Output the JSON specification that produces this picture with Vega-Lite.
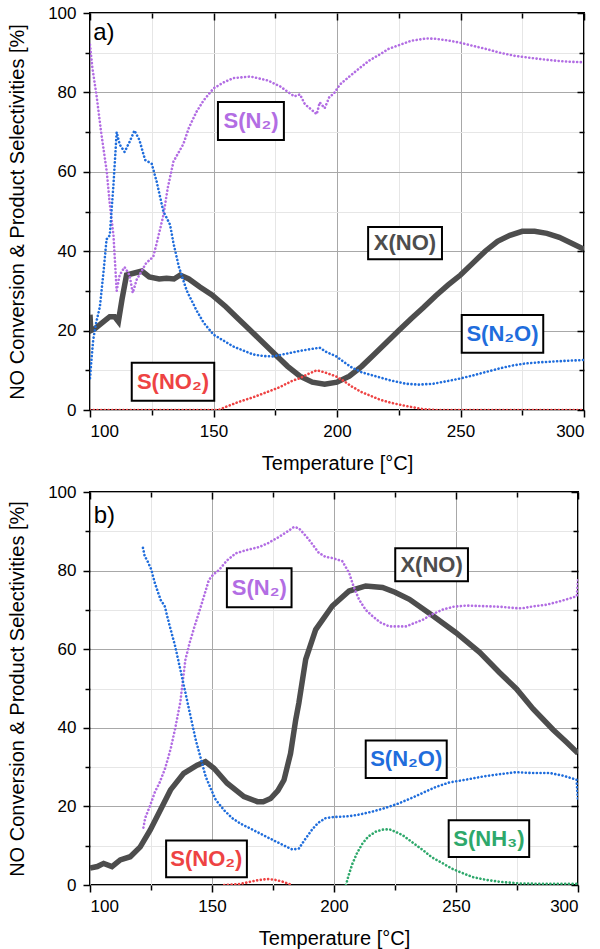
{
"$schema":"https://vega.github.io/schema/vega-lite/v6.json",
"padding":{"left":6,"top":3,"right":0,"bottom":0},
"background":"white",
"spacing":8,
"config":{
 "view":{"stroke":"black","strokeWidth":2},
 "font":"Liberation Sans",
 "axis":{"domain":false,"labelFont":"Liberation Sans","titleFont":"Liberation Sans","labelFontSize":17,"titleFontSize":20,"titleFontWeight":"normal","labelColor":"black","titleColor":"black","tickColor":"black","tickWidth":1.5}
},
"datasets":{
"aX":[{"t":100,"v":24},{"t":100.3,"v":20},{"t":102,"v":20.5},{"t":104,"v":21.5},{"t":106,"v":22.5},{"t":108,"v":23.5},{"t":110,"v":23.5},{"t":111.5,"v":22.3},{"t":113,"v":28},{"t":114.8,"v":34},{"t":118,"v":34.5},{"t":121,"v":35},{"t":124,"v":33.5},{"t":128,"v":33},{"t":131,"v":33.2},{"t":134,"v":33},{"t":136.5,"v":34},{"t":140,"v":33},{"t":144.5,"v":31},{"t":149.4,"v":29},{"t":155,"v":26},{"t":160,"v":23},{"t":163.4,"v":21},{"t":170,"v":17},{"t":175,"v":14},{"t":180,"v":11},{"t":185,"v":8.5},{"t":190,"v":7},{"t":195,"v":6.5},{"t":200,"v":7},{"t":205,"v":8.5},{"t":210,"v":11},{"t":215,"v":14},{"t":220,"v":17},{"t":225,"v":20},{"t":230,"v":23},{"t":235,"v":25.8},{"t":240,"v":28.8},{"t":245,"v":31.5},{"t":250,"v":34},{"t":255,"v":37},{"t":260,"v":40},{"t":265,"v":42.5},{"t":270,"v":44},{"t":275,"v":45},{"t":280,"v":45},{"t":285,"v":44.5},{"t":290,"v":43.5},{"t":295,"v":42},{"t":300,"v":40.5}],
"aS":[
{"s":"N2","t":100,"v":92},{"s":"N2","t":101,"v":86},{"s":"N2","t":102.7,"v":79},{"s":"N2","t":104.5,"v":70},{"s":"N2","t":106.8,"v":60},{"s":"N2","t":108,"v":52},{"s":"N2","t":109.5,"v":44},{"s":"N2","t":110.8,"v":30},{"s":"N2","t":112,"v":34},{"s":"N2","t":114,"v":36},{"s":"N2","t":116,"v":34},{"s":"N2","t":117.3,"v":29.5},{"s":"N2","t":119,"v":33},{"s":"N2","t":120,"v":34},{"s":"N2","t":122.7,"v":37},{"s":"N2","t":125.6,"v":38.6},{"s":"N2","t":127,"v":42},{"s":"N2","t":129.7,"v":49},{"s":"N2","t":131.5,"v":56},{"s":"N2","t":133.8,"v":62.6},{"s":"N2","t":137.8,"v":67},{"s":"N2","t":140,"v":71},{"s":"N2","t":143,"v":75},{"s":"N2","t":146,"v":78},{"s":"N2","t":150,"v":81},{"s":"N2","t":154,"v":82.5},{"s":"N2","t":158,"v":83.6},{"s":"N2","t":165,"v":84},{"s":"N2","t":172,"v":83},{"s":"N2","t":177,"v":81.5},{"s":"N2","t":182.7,"v":79},{"s":"N2","t":185,"v":79.5},{"s":"N2","t":187,"v":77},{"s":"N2","t":189,"v":76},{"s":"N2","t":191.8,"v":74.5},{"s":"N2","t":193,"v":77.5},{"s":"N2","t":195,"v":76},{"s":"N2","t":197,"v":79},{"s":"N2","t":198.5,"v":79.5},{"s":"N2","t":201.2,"v":82},{"s":"N2","t":205,"v":84},{"s":"N2","t":209.3,"v":86.2},{"s":"N2","t":213,"v":88},{"s":"N2","t":217.4,"v":89.6},{"s":"N2","t":221,"v":91},{"s":"N2","t":225.5,"v":92},{"s":"N2","t":230,"v":93},{"s":"N2","t":236.3,"v":93.6},{"s":"N2","t":240,"v":93.5},{"s":"N2","t":245.7,"v":93},{"s":"N2","t":250,"v":92.5},{"s":"N2","t":255.2,"v":91.7},{"s":"N2","t":260,"v":91},{"s":"N2","t":266,"v":90},{"s":"N2","t":272,"v":89.2},{"s":"N2","t":279.5,"v":88.6},{"s":"N2","t":285,"v":88.2},{"s":"N2","t":290,"v":87.9},{"s":"N2","t":295,"v":87.7},{"s":"N2","t":300,"v":87.6},
{"s":"N2O","t":100,"v":8},{"s":"N2O","t":100.5,"v":12},{"s":"N2O","t":101.3,"v":17.7},{"s":"N2O","t":102.5,"v":22},{"s":"N2O","t":104,"v":26},{"s":"N2O","t":105.5,"v":35},{"s":"N2O","t":106.7,"v":43},{"s":"N2O","t":108,"v":44},{"s":"N2O","t":109.5,"v":56.8},{"s":"N2O","t":110.8,"v":70},{"s":"N2O","t":112,"v":66.9},{"s":"N2O","t":114,"v":65},{"s":"N2O","t":116,"v":67.5},{"s":"N2O","t":118,"v":70.4},{"s":"N2O","t":120,"v":68},{"s":"N2O","t":122.3,"v":63},{"s":"N2O","t":125,"v":62},{"s":"N2O","t":127,"v":57.5},{"s":"N2O","t":129.7,"v":50},{"s":"N2O","t":132.4,"v":46.7},{"s":"N2O","t":133.8,"v":42},{"s":"N2O","t":136,"v":36},{"s":"N2O","t":139.2,"v":30},{"s":"N2O","t":143.2,"v":25},{"s":"N2O","t":146,"v":22},{"s":"N2O","t":150,"v":19},{"s":"N2O","t":154,"v":17.5},{"s":"N2O","t":158,"v":16},{"s":"N2O","t":162,"v":15},{"s":"N2O","t":166,"v":14},{"s":"N2O","t":170,"v":13.6},{"s":"N2O","t":174,"v":13.5},{"s":"N2O","t":178,"v":14},{"s":"N2O","t":182,"v":14.5},{"s":"N2O","t":185,"v":14.9},{"s":"N2O","t":189,"v":15.3},{"s":"N2O","t":193,"v":15.7},{"s":"N2O","t":196,"v":14.5},{"s":"N2O","t":199.5,"v":13.6},{"s":"N2O","t":203,"v":12},{"s":"N2O","t":206,"v":10.7},{"s":"N2O","t":210,"v":9.5},{"s":"N2O","t":217.4,"v":8.2},{"s":"N2O","t":222,"v":7.4},{"s":"N2O","t":228,"v":6.6},{"s":"N2O","t":233,"v":6.4},{"s":"N2O","t":238.8,"v":6.6},{"s":"N2O","t":244,"v":7.2},{"s":"N2O","t":249.6,"v":7.9},{"s":"N2O","t":255,"v":8.7},{"s":"N2O","t":260.4,"v":9.6},{"s":"N2O","t":266,"v":10.5},{"s":"N2O","t":271,"v":11.2},{"s":"N2O","t":276,"v":11.7},{"s":"N2O","t":281.9,"v":12},{"s":"N2O","t":287,"v":12.2},{"s":"N2O","t":293,"v":12.4},{"s":"N2O","t":300,"v":12.6},
{"s":"NO2","t":100,"v":0},{"s":"NO2","t":152,"v":0},{"s":"NO2","t":155,"v":0.8},{"s":"NO2","t":160,"v":2},{"s":"NO2","t":166,"v":3.2},{"s":"NO2","t":172,"v":4.6},{"s":"NO2","t":177,"v":5.8},{"s":"NO2","t":182,"v":7.4},{"s":"NO2","t":185,"v":8},{"s":"NO2","t":188,"v":9},{"s":"NO2","t":191.8,"v":10},{"s":"NO2","t":195,"v":9.5},{"s":"NO2","t":199.5,"v":8.5},{"s":"NO2","t":203,"v":7.2},{"s":"NO2","t":206,"v":5.9},{"s":"NO2","t":210,"v":4.5},{"s":"NO2","t":217.4,"v":2.6},{"s":"NO2","t":222,"v":1.8},{"s":"NO2","t":228,"v":1},{"s":"NO2","t":235,"v":0.2},{"s":"NO2","t":240,"v":0},{"s":"NO2","t":300,"v":0}],
"aB":[{"s":"N2","lab":"S(N₂)","x1":151.8,"x2":178.5,"y1":68,"y2":77.6,"xc":165.2,"yc":72.8},{"s":"X","lab":"X(NO)","x1":212.6,"x2":242.5,"y1":38,"y2":46.1,"xc":227.5,"yc":42},{"s":"N2O","lab":"S(N₂O)","x1":250.5,"x2":283.5,"y1":14.4,"y2":23.9,"xc":267,"yc":19.1},{"s":"NO2","lab":"S(NO₂)","x1":116.9,"x2":150.3,"y1":2.3,"y2":11.9,"xc":133.6,"yc":7.1}],
"aL":[{"lab":"a)","t":101.3,"v":95}],
"bX":[{"t":100,"v":4.3},{"t":103,"v":4.7},{"t":105.6,"v":5.5},{"t":109,"v":4.7},{"t":112.4,"v":6.4},{"t":116.5,"v":7.2},{"t":120.6,"v":9.7},{"t":124.7,"v":14},{"t":128.8,"v":19},{"t":133,"v":24.2},{"t":138.4,"v":28.4},{"t":143.9,"v":30.5},{"t":147.3,"v":31.4},{"t":150.8,"v":29.7},{"t":156.2,"v":25.9},{"t":163.1,"v":22.5},{"t":168.6,"v":21.2},{"t":171,"v":21.2},{"t":174,"v":22},{"t":177,"v":24},{"t":179.5,"v":26.7},{"t":182.2,"v":33.5},{"t":184.3,"v":42},{"t":185.6,"v":46.3},{"t":188.4,"v":57.4},{"t":192.5,"v":65},{"t":199.3,"v":71},{"t":206.2,"v":74.8},{"t":213,"v":76.1},{"t":219.9,"v":75.7},{"t":225,"v":74.5},{"t":230.9,"v":72.7},{"t":240.5,"v":68.5},{"t":250,"v":64.2},{"t":259.7,"v":59.2},{"t":267.9,"v":54},{"t":274.8,"v":49.9},{"t":281.6,"v":44.8},{"t":289.8,"v":39.5},{"t":295,"v":36.5},{"t":300,"v":33.5}],
"bS":[
{"s":"N2","t":121.9,"v":14.6},{"s":"N2","t":122.6,"v":17},{"s":"N2","t":124.5,"v":20},{"s":"N2","t":126.7,"v":23.8},{"s":"N2","t":128.5,"v":26},{"s":"N2","t":130.8,"v":29.7},{"s":"N2","t":133,"v":34.5},{"s":"N2","t":134.9,"v":39.8},{"s":"N2","t":137,"v":46.5},{"s":"N2","t":139.1,"v":57.3},{"s":"N2","t":141,"v":62},{"s":"N2","t":143.2,"v":66.5},{"s":"N2","t":146,"v":72},{"s":"N2","t":148.7,"v":77.6},{"s":"N2","t":150.5,"v":79},{"s":"N2","t":152.8,"v":80.1},{"s":"N2","t":156,"v":82.5},{"s":"N2","t":159.7,"v":84.4},{"s":"N2","t":164,"v":85.2},{"s":"N2","t":169.3,"v":86},{"s":"N2","t":173,"v":87},{"s":"N2","t":177.5,"v":88.6},{"s":"N2","t":181,"v":90},{"s":"N2","t":183.6,"v":91.1},{"s":"N2","t":185.6,"v":90.8},{"s":"N2","t":187.5,"v":89.5},{"s":"N2","t":189.7,"v":87.9},{"s":"N2","t":193.8,"v":84.5},{"s":"N2","t":196.5,"v":83.5},{"s":"N2","t":199.3,"v":83.2},{"s":"N2","t":203.4,"v":82.4},{"s":"N2","t":206.2,"v":79.4},{"s":"N2","t":208,"v":76},{"s":"N2","t":210.3,"v":72.6},{"s":"N2","t":213,"v":70},{"s":"N2","t":215.8,"v":68.4},{"s":"N2","t":219,"v":66.8},{"s":"N2","t":222.6,"v":65.8},{"s":"N2","t":229.5,"v":65.8},{"s":"N2","t":236.4,"v":67.5},{"s":"N2","t":240,"v":68.8},{"s":"N2","t":244.6,"v":70.1},{"s":"N2","t":249,"v":70.8},{"s":"N2","t":254.2,"v":71.1},{"s":"N2","t":263.8,"v":70.9},{"s":"N2","t":268,"v":70.8},{"s":"N2","t":273.4,"v":70.5},{"s":"N2","t":277,"v":70.4},{"s":"N2","t":281.6,"v":70.9},{"s":"N2","t":287,"v":71.3},{"s":"N2","t":292.6,"v":72.2},{"s":"N2","t":296,"v":72.8},{"s":"N2","t":299.5,"v":73.5},{"s":"N2","t":300,"v":77.5},
{"s":"N2O","t":121.7,"v":85.8},{"s":"N2O","t":122.4,"v":83.7},{"s":"N2O","t":123.5,"v":82.5},{"s":"N2O","t":125.1,"v":80.3},{"s":"N2O","t":126.5,"v":77},{"s":"N2O","t":127.9,"v":74.4},{"s":"N2O","t":129,"v":72.5},{"s":"N2O","t":130.6,"v":71},{"s":"N2O","t":132,"v":67.5},{"s":"N2O","t":133.4,"v":64.2},{"s":"N2O","t":134.8,"v":61},{"s":"N2O","t":136.1,"v":57.4},{"s":"N2O","t":138.2,"v":51.5},{"s":"N2O","t":140.3,"v":45.5},{"s":"N2O","t":143.3,"v":37},{"s":"N2O","t":145.5,"v":32},{"s":"N2O","t":147.4,"v":27.6},{"s":"N2O","t":149.5,"v":24.5},{"s":"N2O","t":151.5,"v":21.7},{"s":"N2O","t":155,"v":19},{"s":"N2O","t":158.3,"v":17},{"s":"N2O","t":162,"v":15.5},{"s":"N2O","t":166.6,"v":14.1},{"s":"N2O","t":170,"v":13},{"s":"N2O","t":174.8,"v":11.5},{"s":"N2O","t":179,"v":10.2},{"s":"N2O","t":183,"v":9},{"s":"N2O","t":185.6,"v":9.3},{"s":"N2O","t":188,"v":11.5},{"s":"N2O","t":191,"v":14.1},{"s":"N2O","t":193.5,"v":15.8},{"s":"N2O","t":196.5,"v":17},{"s":"N2O","t":200,"v":17.3},{"s":"N2O","t":206.2,"v":17.5},{"s":"N2O","t":211,"v":18},{"s":"N2O","t":215.8,"v":18.7},{"s":"N2O","t":221,"v":19.6},{"s":"N2O","t":226.7,"v":20.8},{"s":"N2O","t":232,"v":22.2},{"s":"N2O","t":237.7,"v":23.8},{"s":"N2O","t":242,"v":25},{"s":"N2O","t":247.3,"v":26.1},{"s":"N2O","t":254,"v":26.8},{"s":"N2O","t":261,"v":27.6},{"s":"N2O","t":268,"v":28.2},{"s":"N2O","t":274.7,"v":28.7},{"s":"N2O","t":281,"v":28.5},{"s":"N2O","t":288.4,"v":28.5},{"s":"N2O","t":294,"v":27.8},{"s":"N2O","t":299.4,"v":26.8},{"s":"N2O","t":300,"v":21.5},
{"s":"NO2","t":155,"v":0},{"s":"NO2","t":160.9,"v":0.2},{"s":"NO2","t":164,"v":0.6},{"s":"NO2","t":167.7,"v":1.1},{"s":"NO2","t":171,"v":1.4},{"s":"NO2","t":173.2,"v":1.5},{"s":"NO2","t":176,"v":1.3},{"s":"NO2","t":178.7,"v":0.9},{"s":"NO2","t":182.8,"v":0},
{"s":"NH3","t":204.9,"v":0},{"s":"NH3","t":206,"v":2.5},{"s":"NH3","t":207.6,"v":5.5},{"s":"NH3","t":209.5,"v":8.2},{"s":"NH3","t":211.7,"v":10.6},{"s":"NH3","t":214,"v":12.3},{"s":"NH3","t":217.2,"v":13.6},{"s":"NH3","t":220,"v":14.1},{"s":"NH3","t":222.6,"v":14.2},{"s":"NH3","t":225,"v":13.6},{"s":"NH3","t":228.1,"v":12.7},{"s":"NH3","t":232,"v":10.9},{"s":"NH3","t":236.4,"v":8.9},{"s":"NH3","t":240,"v":7.1},{"s":"NH3","t":244.6,"v":5.5},{"s":"NH3","t":248.5,"v":4.1},{"s":"NH3","t":252.8,"v":3},{"s":"NH3","t":257,"v":2},{"s":"NH3","t":262.4,"v":1.3},{"s":"NH3","t":268,"v":0.8},{"s":"NH3","t":276.1,"v":0.4},{"s":"NH3","t":285,"v":0.3},{"s":"NH3","t":300,"v":0.3}],
"bB":[{"s":"N2","lab":"S(N₂)","x1":156.1,"x2":182.6,"y1":70.7,"y2":80.6,"xc":169.4,"yc":75.6},{"s":"X","lab":"X(NO)","x1":225.1,"x2":254.9,"y1":77.3,"y2":85.7,"xc":240,"yc":81.5},{"s":"N2O","lab":"S(N₂O)","x1":213,"x2":246.2,"y1":27.2,"y2":36.8,"xc":229.6,"yc":32},{"s":"NH3","lab":"S(NH₃)","x1":247,"x2":280,"y1":7.1,"y2":16.5,"xc":263.5,"yc":11.8},{"s":"NO2","lab":"S(NO₂)","x1":131.2,"x2":164.3,"y1":2,"y2":11.3,"xc":147.7,"yc":6.6}],
"bL":[{"lab":"b)","t":101.5,"v":94}]
},
"vconcat":[
{
 "width":494,"height":397,
 "resolve":{"axis":{"x":"independent","y":"independent"}},
 "layer":[
  {"data":{"name":"aX"},"mark":{"type":"line","color":"#4d4d4d","strokeWidth":5.5,"clip":true},
   "encoding":{
    "x":{"field":"t","type":"quantitative","scale":{"domain":[100,300],"nice":false},"axis":{"orient":"bottom","title":"Temperature [°C]","values":[100,125,150,175,200,225,250,275,300],"labelExpr":"datum.value % 50 === 0 ? datum.label : ''","labelPadding":6,"titlePadding":14,"tickSize":{"condition":{"test":"datum.value % 50 === 0","value":7},"value":5},"gridColor":{"condition":{"test":"datum.value % 50 === 0","value":"#a8a8a8"},"value":"#e6e6e6"},"grid":true}},
    "y":{"field":"v","type":"quantitative","scale":{"domain":[0,100],"nice":false},"axis":{"orient":"left","title":"NO Conversion & Product Selectivities [%]","values":[0,10,20,30,40,50,60,70,80,90,100],"labelExpr":"datum.value % 20 === 0 ? datum.label : ''","labelPadding":7,"titlePadding":20,"tickSize":{"condition":{"test":"datum.value % 20 === 0","value":7},"value":5},"gridColor":{"condition":{"test":"datum.value % 20 === 0","value":"#a8a8a8"},"value":"#e6e6e6"},"grid":true}}}},
  {"data":{"name":"aS"},"mark":{"type":"line","strokeWidth":2.6,"strokeDash":[0.1,3.6],"strokeCap":"round","clip":true},
   "encoding":{"x":{"field":"t","type":"quantitative","axis":null},"y":{"field":"v","type":"quantitative","axis":null},
    "color":{"field":"s","type":"nominal","legend":null,"scale":{"domain":["N2","N2O","NO2","NH3","X"],"range":["#b26de3","#1f6ddc","#ee4343","#2ea86b","#4d4d4d"]}}}},
  {"data":{"name":"aB"},"mark":{"type":"rect","fill":"white","stroke":"black","strokeWidth":2},
   "encoding":{"x":{"field":"x1","type":"quantitative","axis":null},"x2":{"field":"x2"},"y":{"field":"y1","type":"quantitative","axis":null},"y2":{"field":"y2"}}},
  {"data":{"name":"aB"},"mark":{"type":"text","fontWeight":"bold","fontSize":22,"font":"Liberation Sans","align":"center","baseline":"middle"},
   "encoding":{"x":{"field":"xc","type":"quantitative","axis":null},"y":{"field":"yc","type":"quantitative","axis":null},"text":{"field":"lab"},
    "color":{"field":"s","type":"nominal","legend":null}}},
  {"data":{"name":"aL"},"mark":{"type":"text","fontSize":24,"font":"Liberation Sans","align":"left","baseline":"middle","color":"black"},
   "encoding":{"x":{"field":"t","type":"quantitative","axis":null},"y":{"field":"v","type":"quantitative","axis":null},"text":{"field":"lab"}}},
  {"data":{"name":"aX"},"mark":{"type":"line","opacity":0},
   "encoding":{
    "x":{"field":"t","type":"quantitative","axis":{"orient":"top","title":null,"labels":false,"grid":false,"minExtent":0,"maxExtent":0,"values":[100,125,150,175,200,225,250,275,300],"tickSize":{"condition":{"test":"datum.value % 50 === 0","value":-7},"value":-5}}},
    "y":{"field":"v","type":"quantitative","axis":{"orient":"right","title":null,"labels":false,"grid":false,"minExtent":0,"maxExtent":0,"values":[0,10,20,30,40,50,60,70,80,90,100],"tickSize":{"condition":{"test":"datum.value % 20 === 0","value":-7},"value":-5}}}}}
 ]
},
{
 "width":488,"height":393,
 "resolve":{"axis":{"x":"independent","y":"independent"}},
 "layer":[
  {"data":{"name":"bX"},"mark":{"type":"line","color":"#4d4d4d","strokeWidth":5.5,"clip":true},
   "encoding":{
    "x":{"field":"t","type":"quantitative","scale":{"domain":[100,300],"nice":false},"axis":{"orient":"bottom","title":"Temperature [°C]","values":[100,125,150,175,200,225,250,275,300],"labelExpr":"datum.value % 50 === 0 ? datum.label : ''","labelPadding":6,"titlePadding":14,"tickSize":{"condition":{"test":"datum.value % 50 === 0","value":7},"value":5},"gridColor":{"condition":{"test":"datum.value % 50 === 0","value":"#a8a8a8"},"value":"#e6e6e6"},"grid":true}},
    "y":{"field":"v","type":"quantitative","scale":{"domain":[0,100],"nice":false},"axis":{"orient":"left","title":"NO Conversion & Product Selectivities [%]","values":[0,10,20,30,40,50,60,70,80,90,100],"labelExpr":"datum.value % 20 === 0 ? datum.label : ''","labelPadding":7,"titlePadding":20,"tickSize":{"condition":{"test":"datum.value % 20 === 0","value":7},"value":5},"gridColor":{"condition":{"test":"datum.value % 20 === 0","value":"#a8a8a8"},"value":"#e6e6e6"},"grid":true}}}},
  {"data":{"name":"bS"},"mark":{"type":"line","strokeWidth":2.6,"strokeDash":[0.1,3.6],"strokeCap":"round","clip":true},
   "encoding":{"x":{"field":"t","type":"quantitative","axis":null},"y":{"field":"v","type":"quantitative","axis":null},
    "color":{"field":"s","type":"nominal","legend":null,"scale":{"domain":["N2","N2O","NO2","NH3","X"],"range":["#b26de3","#1f6ddc","#ee4343","#2ea86b","#4d4d4d"]}}}},
  {"data":{"name":"bB"},"mark":{"type":"rect","fill":"white","stroke":"black","strokeWidth":2},
   "encoding":{"x":{"field":"x1","type":"quantitative","axis":null},"x2":{"field":"x2"},"y":{"field":"y1","type":"quantitative","axis":null},"y2":{"field":"y2"}}},
  {"data":{"name":"bB"},"mark":{"type":"text","fontWeight":"bold","fontSize":22,"font":"Liberation Sans","align":"center","baseline":"middle"},
   "encoding":{"x":{"field":"xc","type":"quantitative","axis":null},"y":{"field":"yc","type":"quantitative","axis":null},"text":{"field":"lab"},
    "color":{"field":"s","type":"nominal","legend":null}}},
  {"data":{"name":"bL"},"mark":{"type":"text","fontSize":24,"font":"Liberation Sans","align":"left","baseline":"middle","color":"black"},
   "encoding":{"x":{"field":"t","type":"quantitative","axis":null},"y":{"field":"v","type":"quantitative","axis":null},"text":{"field":"lab"}}},
  {"data":{"name":"bX"},"mark":{"type":"line","opacity":0},
   "encoding":{
    "x":{"field":"t","type":"quantitative","axis":{"orient":"top","title":null,"labels":false,"grid":false,"minExtent":0,"maxExtent":0,"values":[100,125,150,175,200,225,250,275,300],"tickSize":{"condition":{"test":"datum.value % 50 === 0","value":-7},"value":-5}}},
    "y":{"field":"v","type":"quantitative","axis":{"orient":"right","title":null,"labels":false,"grid":false,"minExtent":0,"maxExtent":0,"values":[0,10,20,30,40,50,60,70,80,90,100],"tickSize":{"condition":{"test":"datum.value % 20 === 0","value":-7},"value":-5}}}}}
 ]
}
]
}
